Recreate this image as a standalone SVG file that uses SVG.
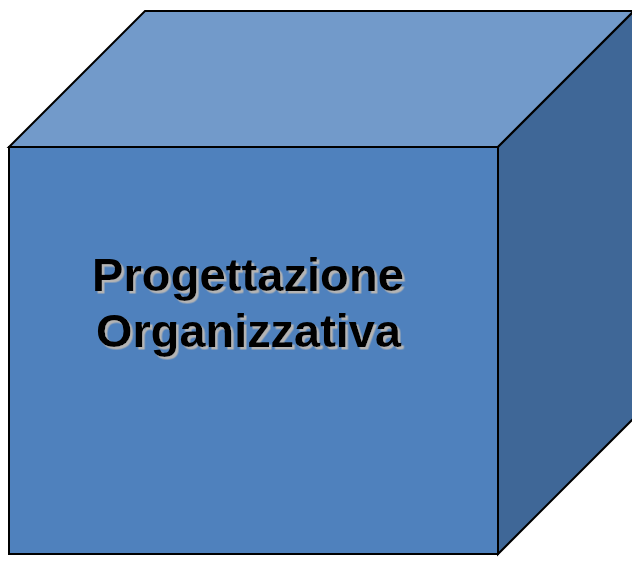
<svg xmlns="http://www.w3.org/2000/svg" width="632" height="562" viewBox="0 0 632 562">
<defs>
<filter id="shadow" x="-5%" y="-20%" width="115%" height="150%">
<feDropShadow dx="2.5" dy="2.5" stdDeviation="0" flood-color="#b4b4b4" flood-opacity="1"/>
</filter>
</defs>
<style>
.face{stroke:#000;stroke-width:2;stroke-linejoin:miter}
.lbl{font-family:"Liberation Sans",Arial,sans-serif;font-weight:bold;font-size:47px;fill:#000}
</style>
<rect width="632" height="562" fill="#fff"/>
<g id="cube">
<polygon class="face" fill="#729aca" points="9,147 145,11 634,11 498,147"/>
<polygon class="face" fill="#3f6797" points="498,147 634,11 634,418 498,554"/>
<polygon class="face" fill="#4f81bd" points="9,147 498,147 498,554 9,554"/>
</g>
<g id="label" filter="url(#shadow)">
<text class="lbl" x="92" y="291" textLength="312" lengthAdjust="spacingAndGlyphs">Progettazione</text>
<text class="lbl" x="96" y="347" textLength="305" lengthAdjust="spacingAndGlyphs">Organizzativa</text>
</g>
</svg>
